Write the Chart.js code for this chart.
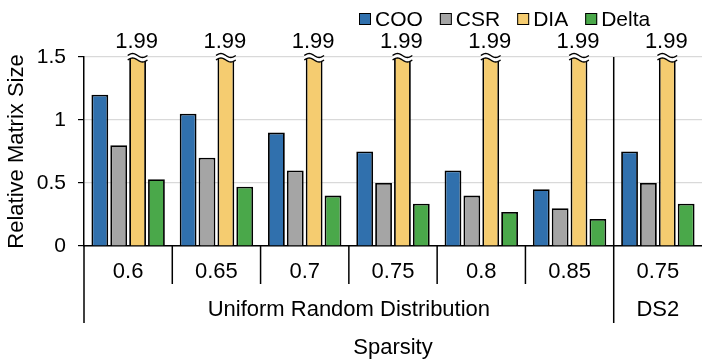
<!DOCTYPE html>
<html>
<head>
<meta charset="utf-8">
<script src="https://cdn.jsdelivr.net/npm/chart.js@4"></script>
<style>
  html, body { margin: 0; padding: 0; background: #fff; }
  #wrap { width: 702px; height: 361px; }
</style>
</head>
<body>
<div id="wrap"><canvas id="grafica"></canvas></div>
<script>
const categorias = ["0.6", "0.65", "0.7", "0.75", "0.8", "0.85", "0.75"];
const grupos = ["Uniform Random Distribution", "DS2"];
const tamGrupos = [6, 1];
const cooValores = [1.2, 1.05, 0.9, 0.75, 0.6, 0.45, 0.75];
const csrValores = [0.8, 0.7, 0.6, 0.5, 0.4, 0.3, 0.5];
const diaValores = [1.99, 1.99, 1.99, 1.99, 1.99, 1.99, 1.99];
const deltaValores = [0.53, 0.47, 0.40, 0.335, 0.27, 0.215, 0.335];
const yMax = 1.5;

const fuente = "'Liberation Sans', Arial, sans-serif";
const colores = ["#3070ad", "#a5a5a5", "#f5cc70", "#4aa84a"];

// leyenda, cortes de la barra DIA, separadores y grupos del eje x
const decoracion = {
  id: "decoracion",
  afterDatasetsDraw(chart) {
    const ctx = chart.ctx;
    const area = chart.chartArea;
    const meta = chart.getDatasetMeta(2);
    ctx.save();
    meta.data.forEach((bar, i) => {
      const valor = chart.data.datasets[2].data[i];
      if (valor <= yMax) return;
      const x1 = bar.x - bar.width / 2 - 1.5;
      const x2 = bar.x + bar.width / 2 + 1.5;
      const ola = (base) => {
        const pts = [];
        for (let k = 0; k <= 20; k++) {
          const x = x1 + (x2 - x1) * k / 20;
          pts.push([x, base - 2 * Math.sin(2 * Math.PI * k / 20)]);
        }
        return pts;
      };
      const arriba = ola(area.top - 1.5);
      const abajo = ola(area.top + 3);
      ctx.beginPath();
      arriba.forEach((p, k) => k ? ctx.lineTo(p[0], p[1]) : ctx.moveTo(p[0], p[1]));
      abajo.slice().reverse().forEach(p => ctx.lineTo(p[0], p[1]));
      ctx.closePath();
      ctx.fillStyle = "#fff";
      ctx.fill();
      ctx.strokeStyle = "#000";
      ctx.lineWidth = 1.3;
      [arriba, abajo].forEach(linea => {
        ctx.beginPath();
        linea.forEach((p, k) => k ? ctx.lineTo(p[0], p[1]) : ctx.moveTo(p[0], p[1]));
        ctx.stroke();
      });
      ctx.fillStyle = "#000";
      ctx.font = "22px " + fuente;
      ctx.textAlign = "center";
      ctx.textBaseline = "alphabetic";
      ctx.fillText(valor.toFixed(2), bar.x - 1, area.top - 9);
    });
    ctx.restore();
  },
  afterDraw(chart) {
    const ctx = chart.ctx;
    const area = chart.chartArea;
    const xs = chart.scales.x;
    const medio = (i) => (xs.getPixelForValue(i - 1) + xs.getPixelForValue(i)) / 2;
    ctx.save();
    ctx.strokeStyle = "#000";
    ctx.lineWidth = 1.5;

    // separadores
    let inicio = 0;
    const bordes = [];
    tamGrupos.forEach(n => { bordes.push(inicio); inicio += n; });
    for (let i = 1; i < categorias.length; i++) {
      const x = medio(i);
      const largo = bordes.includes(i);
      ctx.beginPath();
      ctx.moveTo(x, largo ? area.top : area.bottom);
      ctx.lineTo(x, area.bottom + (largo ? 77 : 38));
      ctx.stroke();
    }
    ctx.beginPath();
    ctx.moveTo(area.left, area.bottom);
    ctx.lineTo(area.left, area.bottom + 77);
    ctx.stroke();

    // etiquetas de grupo
    ctx.fillStyle = "#000";
    ctx.font = "22px " + fuente;
    ctx.textAlign = "center";
    ctx.textBaseline = "middle";
    inicio = 0;
    grupos.forEach((g, j) => {
      const a = inicio === 0 ? area.left : medio(inicio);
      const fin = inicio + tamGrupos[j];
      const b = fin >= categorias.length ? area.right : medio(fin);
      ctx.fillText(g, (a + b) / 2, area.bottom + 64);
      inicio = fin;
    });

    // leyenda
    let lx = 359;
    const ly = 19;
    ctx.font = "21px " + fuente;
    chart.data.datasets.forEach(ds => {
      ctx.fillStyle = ds.backgroundColor;
      ctx.fillRect(lx, ly - 6, 12, 12);
      ctx.lineWidth = 1;
      ctx.strokeRect(lx + 0.5, ly - 5.5, 11, 11);
      ctx.fillStyle = "#000";
      ctx.textAlign = "left";
      ctx.fillText(ds.label, lx + 16, ly + 1);
      lx += 16 + ctx.measureText(ds.label).width + 17;
    });
    ctx.restore();
  }
};

const ctx = document.getElementById("grafica").getContext("2d");
const datos = [cooValores, csrValores, diaValores, deltaValores];
const nombres = ["COO", "CSR", "DIA", "Delta"];

new Chart(ctx, {
  type: "bar",
  data: {
    labels: categorias,
    datasets: datos.map((d, i) => ({
      label: nombres[i],
      data: d,
      backgroundColor: colores[i],
      borderColor: "#000",
      borderWidth: 1.8,
      clip: 0,
      categoryPercentage: 0.855,
      barPercentage: 0.89
    }))
  },
  options: {
    responsive: true,
    maintainAspectRatio: false,
    animation: false,
    layout: { padding: { top: 57, right: -3, bottom: 0, left: 0 } },
    plugins: {
      legend: { display: false },
      tooltip: { enabled: false }
    },
    scales: {
      x: {
        grid: { display: false, drawTicks: false },
        border: { display: true, color: "#000", width: 1.5 },
        ticks: { color: "#000", font: { family: fuente, size: 22 }, padding: 13, maxRotation: 0 },
        title: { display: true, text: "Sparsity", color: "#000", font: { family: fuente, size: 22 }, padding: { top: 4, bottom: 0 } },
        afterFit(scale) { scale.height = 115; scale.paddingLeft = 0; scale.paddingRight = 0; }
      },
      y: {
        min: 0,
        max: yMax,
        ticks: { stepSize: 0.5, color: "#000", font: { family: fuente, size: 21 }, padding: 12, callback: (v) => String(v) },
        grid: { color: "#d9d9d9", tickColor: "#000", tickLength: 6, lineWidth: 1.2 },
        border: { display: true, color: "#000", width: 1.5 },
        title: { display: true, text: "Relative Matrix Size", color: "#000", font: { family: fuente, size: 22 }, padding: { top: 4, bottom: 0 } },
        afterFit(scale) { scale.width = 84; }
      }
    }
  },
  plugins: [decoracion]
});
</script>
</body>
</html>
